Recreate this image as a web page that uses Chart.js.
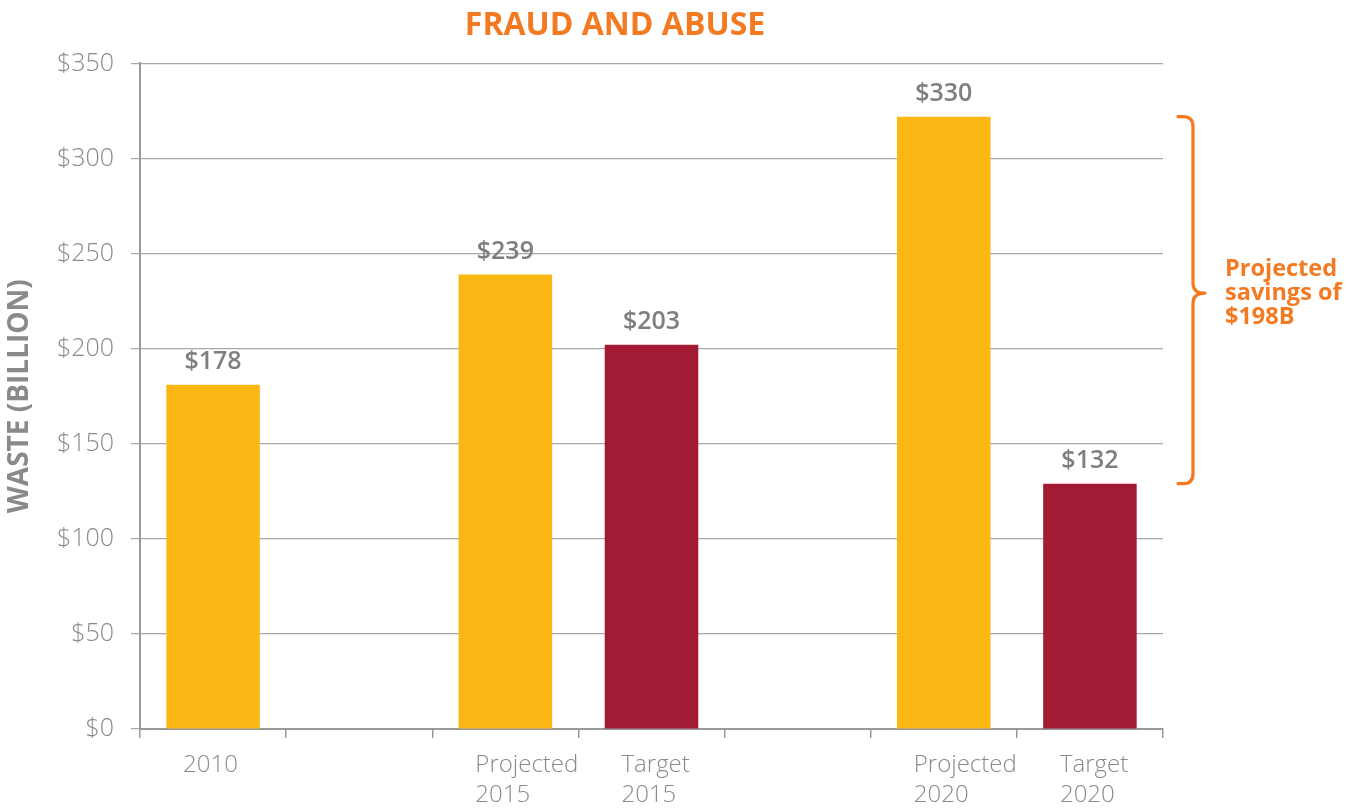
<!DOCTYPE html>
<html>
<head>
<meta charset="utf-8">
<style>
html,body{margin:0;padding:0;background:#fff;}
#wrap{position:relative;width:1357px;height:811px;}
canvas{display:block;}
</style>
<script src="https://cdn.jsdelivr.net/npm/chart.js@4.4.0/dist/chart.umd.min.js"></script>
</head>
<body>
<div id="wrap"><canvas id="c" width="1357" height="811" style="width:1357px;height:811px;"></canvas></div>
<script>
// ---- data ----
const categories = [["2010"], [""], ["Projected", "2015"], ["Target", "2015"], [""], ["Projected", "2020"], ["Target", "2020"]];
const projectedValues = [181, null, 239, null, null, 322, null];
const targetValues = [null, null, null, 202, null, null, 129];
const valueLabels = ["$178", "", "$239", "$203", "", "$330", "$132"];
const yTickValues = [0, 50, 100, 150, 200, 250, 300, 350];
const savingsNote = ["Projected", "savings of", "$198B"];
const chartTitle = "FRAUD AND ABUSE";
const yAxisTitle = "WASTE (BILLION)";

// ---- styles ----
const ORANGE = "#F47A22";
const YELLOW = "#FBB714";
const MAROON = "#A31A35";
const GRAY_TEXT = "#8a8a8a";
const GRAY_LABEL = "#7f7f7f";
const FONT = "'Open Sans', 'Noto Sans', sans-serif";

const valueLabelPlugin = {
  id: "valueLabels",
  afterDatasetsDraw(chart) {
    const ctx = chart.ctx;
    ctx.save();
    ctx.font = "600 25px " + FONT;
    ctx.fillStyle = GRAY_LABEL;
    ctx.textAlign = "center";
    ctx.textBaseline = "middle";
    chart.data.datasets.forEach((ds, di) => {
      const meta = chart.getDatasetMeta(di);
      meta.data.forEach((bar, i) => {
        if (ds.data[i] == null) return;
        ctx.fillText(valueLabels[i], bar.x, bar.y - 23);
      });
    });
    ctx.restore();
  }
};

const bracketPlugin = {
  id: "savingsBracket",
  afterDraw(chart) {
    const topBar = chart.getDatasetMeta(0).data[5];
    const botBar = chart.getDatasetMeta(1).data[6];
    const y1 = topBar.y, y2 = botBar.y;
    const area = chart.chartArea;
    const xEnd = area.right + 15;
    const xV = area.right + 30;
    const xTip = area.right + 42;
    const r = 10;
    const ym = (y1 + y2) / 2 - 7;
    const ctx = chart.ctx;
    ctx.save();
    ctx.strokeStyle = ORANGE;
    ctx.lineWidth = 3.2;
    ctx.lineCap = "round";
    ctx.lineJoin = "round";
    ctx.beginPath();
    ctx.moveTo(xEnd, y1);
    ctx.lineTo(xV - r, y1);
    ctx.quadraticCurveTo(xV, y1, xV, y1 + r);
    ctx.lineTo(xV, ym - r);
    ctx.quadraticCurveTo(xV, ym, xTip, ym);
    ctx.quadraticCurveTo(xV, ym, xV, ym + r);
    ctx.lineTo(xV, y2 - r);
    ctx.quadraticCurveTo(xV, y2, xV - r, y2);
    ctx.lineTo(xEnd, y2);
    ctx.stroke();

    ctx.fillStyle = ORANGE;
    ctx.font = "700 23.5px " + FONT;
    ctx.textAlign = "left";
    ctx.textBaseline = "middle";
    const lh = 24;
    const yc = ym;
    savingsNote.forEach((line, i) => {
      ctx.fillText(line, area.right + 62, yc + (i - (savingsNote.length - 1) / 2) * lh);
    });
    ctx.restore();
  }
};

new Chart(document.getElementById("c"), {
  type: "bar",
  data: {
    labels: categories,
    datasets: [
      { label: "Actual / Projected", data: projectedValues, backgroundColor: YELLOW, grouped: false, barPercentage: 0.64, categoryPercentage: 1 },
      { label: "Target", data: targetValues, backgroundColor: MAROON, grouped: false, barPercentage: 0.64, categoryPercentage: 1 }
    ]
  },
  options: {
    responsive: false,
    maintainAspectRatio: false,
    animation: false,
    devicePixelRatio: 1,
    layout: { padding: { left: 0, right: 127, top: 0, bottom: 0 } },
    plugins: {
      legend: { display: false },
      tooltip: { enabled: false },
      title: {
        display: true,
        text: chartTitle,
        color: ORANGE,
        font: { family: FONT, size: 32, weight: "700" },
        padding: { top: 7, bottom: 18 }
      }
    },
    scales: {
      x: {
        offset: true,
        afterFit(scale) { scale.height = 82; },
        grid: { offset: true, drawOnChartArea: false, drawTicks: true, tickLength: 9, color: "#999999", lineWidth: 1.5 },
        border: { display: true, color: "#999999", width: 2 },
        ticks: {
          autoSkip: false, maxRotation: 0, minRotation: 0,
          align: "start", labelOffset: -30, padding: 12,
          color: GRAY_TEXT,
          font: { family: FONT, size: 24, weight: "300", lineHeight: 1.25 }
        }
      },
      y: {
        min: 0, max: 350,
        afterBuildTicks(scale) { scale.ticks = yTickValues.map(v => ({ value: v })); },
        afterFit(scale) { scale.width = 140; },
        grid: { color: "#a8a8a8", lineWidth: 1.2, tickLength: 9, drawTicks: true },
        border: { display: true, color: "#999999", width: 2 },
        ticks: {
          padding: 17,
          color: GRAY_TEXT,
          font: { family: FONT, size: 25, weight: "300" },
          callback: v => "$" + v
        },
        title: {
          display: true,
          text: yAxisTitle,
          color: GRAY_TEXT,
          font: { family: FONT, size: 28, weight: "700" },
          padding: { top: 3, bottom: 0 }
        }
      },
      yPad: {
        type: "linear",
        position: "right",
        display: true,
        grid: { display: false },
        border: { display: false },
        ticks: { display: false },
        afterFit(scale) { scale.width = 67; }
      }
    }
  },
  plugins: [valueLabelPlugin, bracketPlugin]
});
</script>
</body>
</html>
